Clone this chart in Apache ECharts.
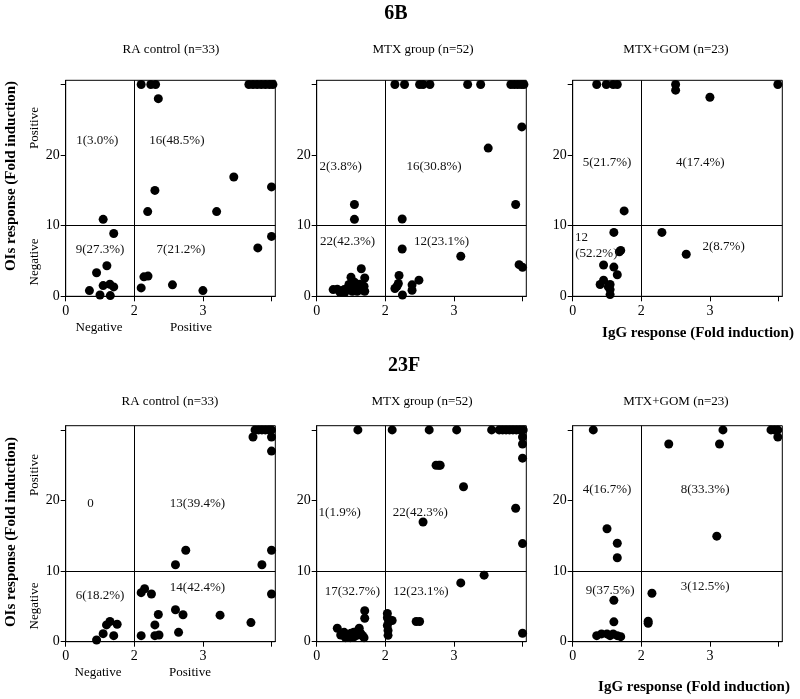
<!DOCTYPE html>
<html>
<head>
<meta charset="utf-8">
<script src="https://cdn.jsdelivr.net/npm/echarts@6/dist/echarts.min.js"></script>
<style>
html,body{margin:0;padding:0;background:#fff;}
#chart{width:800px;height:699px;}
</style>
</head>
<body>
<div id="chart"></div>
<script>
// ---- Tick labels (x axis is a broken scale: positions 0,1,2,3 -> 0,2,3,4) ----
const xTickLabels = ['0', '2', '3', ''];
const yTickLabels = ['0', '10', '20', ''];
const rowTitles = ['6B', '23F'];
const panelTitles = ['RA control (n=33)', 'MTX group (n=52)', 'MTX+GOM (n=23)'];

// ---- Data: [IgG position on axis, OIs fold induction] ----
const b6_ra = [
  [1.10,30],[1.24,30],[1.31,30],[1.35,28.0],
  [2.67,30],[2.73,30],[2.79,30],[2.85,30],[2.91,30],[2.97,30],[3.02,30],
  [2.45,16.9],[3.0,15.5],[1.30,15.0],[1.195,12.0],[2.2,12.0],
  [0.546,10.9],
  [0.70,8.9],[0.60,4.33],[0.45,3.33],[0.546,1.52],[0.644,1.71],[0.70,1.33],[0.346,0.81],[0.50,0.19],[0.65,0.10],
  [3.0,8.48],[2.80,6.86],[1.14,2.76],[1.20,2.86],[1.10,1.19],[1.556,1.62],[2.0,0.81]
];
const b6_mtx = [
  [1.14,30],[1.28,30],[1.50,30],[1.55,30],[1.65,30],[2.20,30],[2.39,30],[2.83,30],[2.88,30],[2.93,30],[2.98,30],[3.02,30],
  [2.99,24.0],[2.50,21.0],[2.90,13.0],[1.246,10.95],
  [0.55,13.0],[0.55,10.9],
  [0.65,3.9],[0.50,2.7],[0.70,2.6],[0.24,0.95],[0.34,0.57],[0.40,0.95],[0.45,1.14],[0.50,1.43],[0.545,1.14],[0.59,1.33],[0.64,1.05],
  [0.69,1.43],[0.70,0.71],[0.41,0.57],[0.52,0.71],[0.59,0.71],[0.47,1.67],[0.55,2.0],[0.62,1.7],[0.66,0.9],[0.36,0.8],[0.30,1.0],
  [1.246,6.7],[2.10,5.67],[2.95,4.48],[3.0,4.1],[1.20,2.95],[1.19,1.81],[1.14,1.10],[1.25,0.19],[1.39,1.62],[1.39,0.86],[1.49,2.29],[1.17,1.43]
];
const b6_gom = [
  [0.35,30],[0.49,30],[0.59,30],[0.65,30],[0.75,12.1],
  [1.50,30],[1.50,29.2],[2.0,28.2],[2.99,30],
  [0.60,9.05],[0.70,6.5],[0.68,6.3],[0.45,4.43],[0.60,4.14],[0.65,3.05],[0.45,2.29],[0.40,1.67],[0.545,1.67],[0.52,1.33],[0.545,0.95],[0.545,0.24],
  [1.30,9.05],[1.655,5.95]
];
const f23_ra = [
  [2.76,30],[2.81,30],[2.86,30],[2.91,30],[2.96,30],[3.0,30],[2.73,29.0],[3.0,29.0],[3.0,27.0],[3.0,12.95],[2.86,10.9],[1.75,12.95],[1.60,10.9],
  [1.10,6.95],[1.15,7.5],[1.25,6.76],[3.0,6.76],[1.60,4.52],[1.71,3.81],[1.35,3.86],[2.25,3.76],[2.70,2.71],[1.30,2.38],[1.645,1.33],[1.10,0.86],[1.30,0.86],[1.36,0.95],
  [0.645,2.86],[0.595,2.38],[0.75,2.48],[0.546,1.14],[0.70,0.86],[0.45,0.24]
];
const f23_mtx = [
  [0.60,30],
  [1.10,30],[1.64,30],[2.04,30],[2.55,30],[2.66,30],[2.71,30],[2.76,30],[2.81,30],[2.86,30],[2.91,30],[2.96,30],[3.01,30],
  [3.0,29.0],[3.0,28.0],[3.0,26.0],[1.74,25.0],[1.78,25.0],[1.80,25.0],[2.14,21.95],[2.90,18.9],[1.55,16.95],[3.0,13.9],
  [2.44,9.43],[2.10,8.33],[3.0,1.19],[1.45,2.86],[1.50,2.86],[1.03,4.0],[1.03,3.4],[1.05,2.9],[1.10,3.0],[1.03,2.3],[1.04,1.6],[1.04,0.9],
  [0.70,4.38],[0.70,3.33],[0.30,1.9],[0.35,0.95],[0.42,0.57],[0.46,0.86],[0.50,1.19],[0.54,1.33],[0.585,1.43],[0.62,1.9],[0.64,1.19],
  [0.67,0.86],[0.69,0.57],[0.40,1.33],[0.55,0.71],[0.60,0.95],[0.49,0.57]
];
const f23_gom = [
  [0.30,30],[0.50,16.0],[0.65,13.95],[0.65,11.9],
  [2.19,30],[2.14,28],[1.40,28],[2.89,30],[2.94,30],[2.99,30],[2.99,29.0],[2.10,14.95],
  [1.155,6.86],[1.10,2.9],[1.10,2.6],
  [0.60,5.86],[0.60,2.81],[0.35,0.86],[0.42,1.1],[0.50,1.1],[0.545,0.86],[0.59,1.1],[0.65,0.86],[0.70,0.71]
];

// ---- Quadrant annotations: [text, x, y] in data coordinates ----
const b6_ra_notes  = [['1(3.0%)',0.46,22.0],['16(48.5%)',1.62,22.0],['9(27.3%)',0.50,6.57],['7(21.2%)',1.68,6.57]];
const b6_mtx_notes = [['2(3.8%)',0.35,18.4],['16(30.8%)',1.71,18.4],['22(42.3%)',0.45,7.7],['12(23.1%)',1.82,7.7]];
const b6_gom_notes = [['5(21.7%)',0.50,19.0],['4(17.4%)',1.86,19.0],['12',0.13,8.26],['(52.2%)',0.345,6.0],['2(8.7%)',2.20,7.05]];
const f23_ra_notes  = [['0',0.36,19.5],['13(39.4%)',1.92,19.5],['6(18.2%)',0.50,6.48],['14(42.4%)',1.92,7.62]];
const f23_mtx_notes = [['1(1.9%)',0.335,18.3],['22(42.3%)',1.51,18.3],['17(32.7%)',0.52,7.05],['12(23.1%)',1.52,7.05]];
const f23_gom_notes = [['4(16.7%)',0.50,21.6],['8(33.3%)',1.93,21.6],['9(37.5%)',0.545,7.3],['3(12.5%)',1.93,7.76]];

const panelData = [b6_ra, b6_mtx, b6_gom, f23_ra, f23_mtx, f23_gom];
const panelNotes = [b6_ra_notes, b6_mtx_notes, b6_gom_notes, f23_ra_notes, f23_mtx_notes, f23_gom_notes];

// ---- Layout ----
const FONT = '"Liberation Serif", "Times New Roman", serif';
const INK = '#000';
const colLeft = [65.7, 316.7, 572.7];
const colWidth = 209.6;
const rowTop = [80.3, 425.7];
const rowHeight = 216;

const grids = [], xAxes = [], yAxes = [], series = [];
for (let i = 0; i < 6; i++) {
  const r = Math.floor(i / 3), c = i % 3;
  grids.push({
    left: colLeft[c], top: rowTop[r], width: colWidth, height: rowHeight,
    show: true, borderColor: '#000', borderWidth: 1, backgroundColor: 'transparent',
    containLabel: false, outerBoundsMode: 'none'
  });
  xAxes.push({
    type: 'value', gridIndex: i, min: 0, max: 3.055, interval: 1,
    axisLine: { show: true, onZero: false, lineStyle: { color: '#000', width: 1 } },
    axisTick: { show: true, length: 5, lineStyle: { color: '#000' }, customValues: [0, 1, 2, 3] },
    axisLabel: {
      show: true, customValues: [0, 1, 2], margin: 8,
      formatter: v => xTickLabels[Math.round(v)] || '',
      color: INK, fontFamily: FONT, fontSize: 14
    },
    splitLine: { show: false }
  });
  yAxes.push({
    type: 'value', gridIndex: i, min: 0, max: 30.6, interval: 10,
    axisLine: { show: true, onZero: false, lineStyle: { color: '#000', width: 1 } },
    axisTick: { show: true, length: 5, lineStyle: { color: '#000' }, customValues: [0, 10, 20, 30] },
    axisLabel: {
      show: true, customValues: [0, 10, 20], margin: 6,
      formatter: v => yTickLabels[Math.round(v / 10)] || '',
      color: INK, fontFamily: FONT, fontSize: 14
    },
    splitLine: { show: false }
  });
  series.push({
    type: 'scatter', xAxisIndex: i, yAxisIndex: i,
    data: panelData[i], symbol: 'circle', symbolSize: 9,
    itemStyle: { color: '#000', opacity: 1 }, silent: true, z: 3,
    markLine: {
      silent: true, symbol: 'none', animation: false,
      label: { show: false },
      lineStyle: { color: '#000', width: 1, type: 'solid', opacity: 1 },
      emphasis: { disabled: true },
      data: [{ xAxis: 1 }, { yAxis: 10 }]
    }
  });
  series.push({
    type: 'scatter', xAxisIndex: i, yAxisIndex: i,
    data: panelNotes[i].map(n => ({ name: n[0], value: [n[1], n[2]] })),
    symbolSize: 1, silent: true, z: 4,
    itemStyle: { color: 'rgba(0,0,0,0)', opacity: 1 },
    label: {
      show: true, position: 'inside', formatter: '{b}', opacity: 1,
      color: '#111', fontFamily: FONT, fontSize: 13
    }
  });
}

function txt(text, x, y, size, bold, rot) {
  return {
    type: 'text', x: x, y: y, rotation: rot || 0, silent: true,
    style: {
      text: text, fill: INK, fontFamily: FONT, fontSize: size,
      fontWeight: bold ? 'bold' : 'normal',
      textAlign: 'center', textVerticalAlign: 'middle',
      align: 'center', verticalAlign: 'middle'
    }
  };
}

const graphics = [
  txt(rowTitles[0], 396, 14, 20, true),
  txt(rowTitles[1], 404, 366, 20, true),
  txt(panelTitles[0], 171, 50, 13), txt(panelTitles[1], 423, 50, 13), txt(panelTitles[2], 676, 50, 13),
  txt(panelTitles[0], 170, 402, 13), txt(panelTitles[1], 422, 402, 13), txt(panelTitles[2], 676, 402, 13),
  txt('OIs response (Fold induction)', 11, 176, 15, true, Math.PI / 2),
  txt('OIs response (Fold induction)', 11, 532, 15, true, Math.PI / 2),
  txt('Positive', 35, 128, 13, false, Math.PI / 2),
  txt('Negative', 35, 262, 13, false, Math.PI / 2),
  txt('Positive', 35, 475, 13, false, Math.PI / 2),
  txt('Negative', 35, 606, 13, false, Math.PI / 2),
  txt('Negative', 99, 328, 13), txt('Positive', 191, 328, 13),
  txt('Negative', 98, 673, 13), txt('Positive', 190, 673, 13),
  txt('IgG response (Fold induction)', 698, 333, 15, true),
  txt('IgG response (Fold induction)', 694, 687, 15, true)
];

const chart = echarts.init(document.getElementById('chart'), null, { renderer: 'canvas' });
chart.setOption({
  animation: false,
  backgroundColor: '#fff',
  grid: grids,
  xAxis: xAxes,
  yAxis: yAxes,
  series: series,
  graphic: graphics
});
</script>
</body>
</html>
